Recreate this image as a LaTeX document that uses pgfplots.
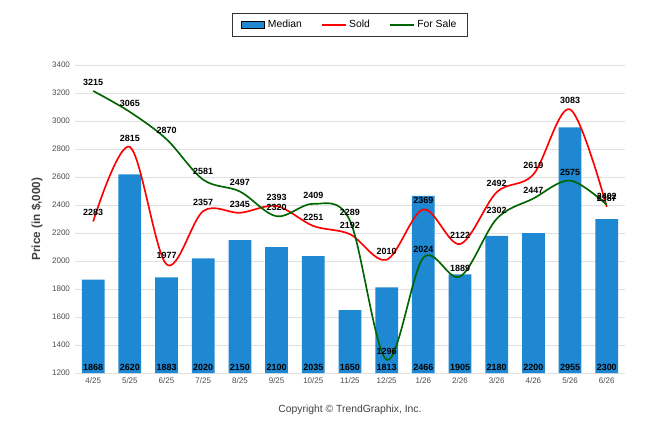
\documentclass[border=0pt]{standalone}
\usepackage{pgfplots}
\pgfplotsset{compat=1.18}
\usepackage{fontspec}
\setmainfont{Liberation Sans}
\definecolor{barblue}{HTML}{1F88D2}
\definecolor{sold}{HTML}{FF0000}
\definecolor{forsale}{HTML}{006400}
\begin{document}
\begin{tikzpicture}
\begin{axis}[
  scale only axis, width=14cm, height=7.84cm,
  ymin=1200, ymax=3400, ytick={1200,1400,...,3400},
  xmin=-0.5, xmax=14.5, xtick={0,...,14},
  xticklabels={4/25,5/25,6/25,7/25,8/25,9/25,10/25,11/25,12/25,1/26,2/26,3/26,4/26,5/26,6/26},
  ticklabel style={font=\fontsize{5.8}{6}\selectfont, text=black!70},
  /pgf/number format/assume math mode=true,
  yticklabel style={/pgf/number format/1000 sep={}},
  ymajorgrids, grid style={black!12},
  axis line style={draw=none}, tick style={draw=none},
  ylabel={\bfseries Price (in \$,000)}, ylabel style={font=\fontsize{8.5}{9}\selectfont, text=black!75},
  clip=false,
  legend style={at={(0.5,1.13)}, anchor=center, legend columns=3, font=\fontsize{7.5}{8}\selectfont,
    draw=black!80, line width=0.6pt, inner xsep=6pt, inner ysep=3pt, /tikz/every even column/.append style={column sep=12pt}},
]
\addlegendimage{area legend, fill=barblue, draw=none}
\addlegendentry{Median}
\addlegendimage{line legend, sold, line width=1.2pt}
\addlegendentry{Sold}
\addlegendimage{line legend, forsale, line width=1.2pt}
\addlegendentry{For Sale}
\addplot[ybar, bar width=0.62, fill=barblue, draw=none, forget plot] coordinates {
(0,1868)(1,2620)(2,1883)(3,2020)(4,2150)(5,2100)(6,2035)(7,1650)(8,1813)(9,2466)(10,1905)(11,2180)(12,2200)(13,2955)(14,2300)};
\addplot[sold, line width=1.2pt, smooth, tension=0.55, mark=none, forget plot,
  nodes near coords, point meta=explicit symbolic, nodes near coords style={font=\bfseries\fontsize{6.5}{7}\selectfont, text=black, anchor=south}]
 coordinates {
(0,2283)[2283](1,2815)[2815](2,1977)[1977](3,2357)[2357](4,2345)[2345](5,2393)[2393](6,2251)[2251](7,2192)[2192](8,2010)[2010](9,2369)[2369](10,2122)[2122](11,2492)[2492](12,2619)[2619](13,3083)[3083](14,2387)[2387]};
\addplot[forsale, line width=1.2pt, smooth, tension=0.55, mark=none, forget plot,
  nodes near coords, point meta=explicit symbolic, nodes near coords style={font=\bfseries\fontsize{6.5}{7}\selectfont, text=black, anchor=south}]
 coordinates {
(0,3215)[3215](1,3065)[3065](2,2870)[2870](3,2581)[2581](4,2497)[2497](5,2320)[2320](6,2409)[2409](7,2289)[2289](8,1296)[1296](9,2024)[2024](10,1889)[1889](11,2302)[2302](12,2447)[2447](13,2575)[2575](14,2402)[2402]};
\addplot[draw=none, mark=none, forget plot, nodes near coords, point meta=explicit symbolic,
  nodes near coords style={font=\bfseries\fontsize{6.5}{7}\selectfont, text=black, anchor=center}] coordinates {
(0,1240)[1868](1,1240)[2620](2,1240)[1883](3,1240)[2020](4,1240)[2150](5,1240)[2100](6,1240)[2035](7,1240)[1650](8,1240)[1813](9,1240)[2466](10,1240)[1905](11,1240)[2180](12,1240)[2200](13,1240)[2955](14,1240)[2300]};
\node[font=\fontsize{7.5}{8}\selectfont, text=black!75] at (rel axis cs:0.5,-0.12) {Copyright \textcopyright{} TrendGraphix, Inc.};
\path (rel axis cs:-0.136,-0.198) (rel axis cs:1.038,1.211);
\end{axis}
\end{tikzpicture}
\end{document}
